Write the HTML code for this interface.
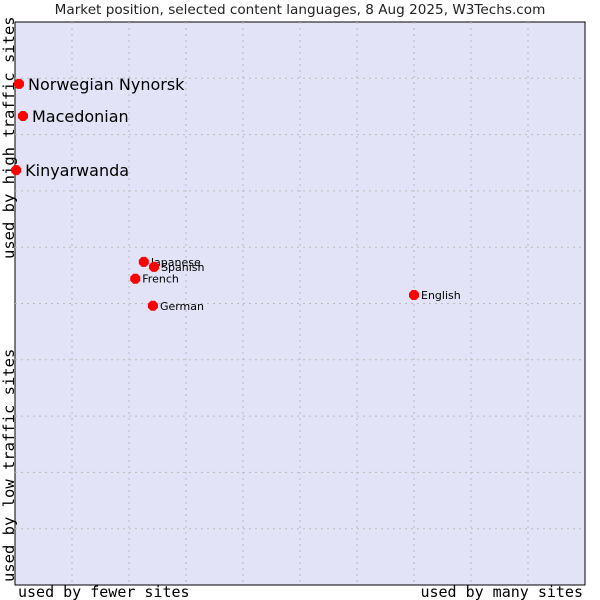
<!DOCTYPE html>
<html><head><meta charset="utf-8"><style>
body{margin:0;background:#fff;width:600px;height:600px;overflow:hidden}
svg{display:block}
</style></head><body>
<svg width="600" height="600">
<text x="300" y="14" text-anchor="middle" font-family="DejaVu Sans, sans-serif" font-size="13.6" fill="#222">Market position, selected content languages, 8 Aug 2025, W3Techs.com</text>
<rect x="15" y="22" width="570" height="563" fill="#e3e3f7" stroke="#000" stroke-width="1"/>
<g id="grid"></g>
<text x="18" y="597" font-family="DejaVu Sans Mono, monospace" font-size="15" fill="#000">used by fewer sites</text>
<text x="583" y="597" text-anchor="end" font-family="DejaVu Sans Mono, monospace" font-size="15" fill="#000">used by many sites</text>
<text transform="translate(14,259) rotate(-90)" font-family="DejaVu Sans Mono, monospace" font-size="15.5" fill="#000">used by high traffic sites</text>
<text transform="translate(14,582) rotate(-90)" font-family="DejaVu Sans Mono, monospace" font-size="15.5" fill="#000">used by low traffic sites</text>
<g id="points"></g>
</svg>
<script>
const languages=["Norwegian Nynorsk","Macedonian","Kinyarwanda","Japanese","Spanish","French","German","English"];
const xValues=[0.7,1.4,0.2,22.6,24.4,21.1,24.2,70.0];
const yValues=[89.0,83.3,73.7,57.4,56.5,54.4,49.6,51.5];
const bigLabel=[true,true,true,false,false,false,false,false];
const NS="http://www.w3.org/2000/svg";
const L=15,T=22,W=570,H=563;
function sx(v){return L+v/100*W;}
function sy(v){return T+H-v/100*H;}
const grid=document.getElementById('grid');
for(let i=1;i<10;i++){
  const x=L+i*57;
  const l=document.createElementNS(NS,'line');
  
  
  l.setAttribute('x1',x);l.setAttribute('x2',x);l.setAttribute('y1',T);l.setAttribute('y2',T+H);
  l.setAttribute('stroke','#bbb');l.setAttribute('stroke-dasharray','2,4');
  grid.appendChild(l);
  const y=T+i*H/10;
  const h=document.createElementNS(NS,'line');
  
  
  h.setAttribute('x1',L);h.setAttribute('x2',L+W);h.setAttribute('y1',y);h.setAttribute('y2',y);
  h.setAttribute('stroke','#bbb');h.setAttribute('stroke-dasharray','2,4');
  grid.appendChild(h);
}
const pts=document.getElementById('points');
languages.forEach((n,i)=>{
  const x=sx(xValues[i]),y=sy(yValues[i]);
  const d=document.createElementNS(NS,'path');
  
  
  d.setAttribute('d',`M${x-5},${y-2}L${x-2},${y-5}L${x+2},${y-5}L${x+5},${y-2}L${x+5},${y+2}L${x+2},${y+5}L${x-2},${y+5}L${x-5},${y+2}Z`);
  d.setAttribute('fill','#f00');
  pts.appendChild(d);
  const t=document.createElementNS(NS,'text');
  
  
  const big=bigLabel[i];
  t.setAttribute('x',x+(big?9:7));
  t.setAttribute('y',y+(big?6:4));
  t.setAttribute('font-family','DejaVu Sans, sans-serif');
  t.setAttribute('font-size',big?16:11);
  t.setAttribute('fill','#000');
  t.textContent=n;
  pts.appendChild(t);
});
</script>
</body></html>
